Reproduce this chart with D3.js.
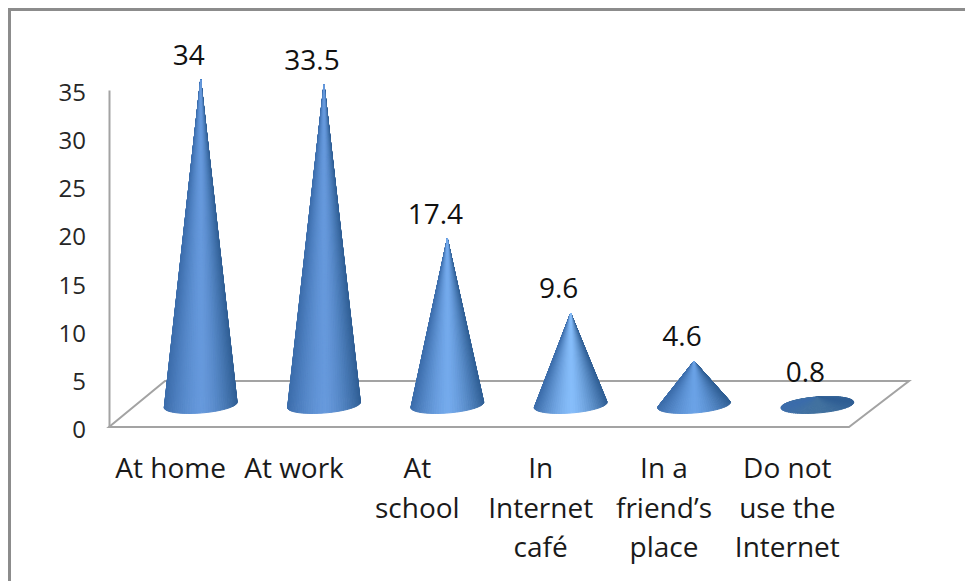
<!DOCTYPE html>
<html>
<head>
<meta charset="utf-8">
<script src="https://cdn.jsdelivr.net/npm/d3@7"></script>
<style>
	html, body { margin: 0; padding: 0; background: #fff; }
	svg { display: block; }
	text { font-family: "Open Sans", sans-serif; fill: #1a1a1a; }
</style>
</head>
<body>
<svg id="chart" width="965" height="581"></svg>
<script>
const categories = ["At home", "At work", "At school", "In Internet café", "In a friend’s place", "Do not use the Internet"];
const values = [34, 33.5, 17.4, 9.6, 4.6, 0.8];
const yTicks = [0, 5, 10, 15, 20, 25, 30, 35];

// wrapped category text, one entry per line
const categoryLines = [
	["At home"],
	["At work"],
	["At", "school"],
	["In", "Internet", "café"],
	["In a", "friend’s", "place"],
	["Do not", "use the", "Internet"]
];

// brightest colour down the middle of each cone
const coneHighlights = ["#6699dc", "#6699dc", "#74aaec", "#86bdfa", "#6aa2e6", "#41719f"];

const svg = d3.select("#chart");
const plotLeft = 109, plotRight = 849, plotTop = 90, plotBottom = 427;
const depthX = 60, depthY = 46;

const x = d3.scaleBand().domain(categories).range([plotLeft, plotRight]);
const y = d3.scaleLinear().domain([0, 35]).range([plotBottom, plotTop]);
// cones stand in the middle of the floor, half way back
const coneY = y.copy().range([405, 70.4]);

// outer frame, runs off the page on the right and bottom
svg.append("path")
	.attr("d", "M9.5,590V9.5H975")
	.attr("fill", "none")
	.attr("stroke", "#8c8c8c")
	.attr("stroke-width", 3);

// floor
svg.append("path")
	.attr("d", d3.line()([
		[plotLeft, plotBottom],
		[plotRight, plotBottom],
		[plotRight + depthX, plotBottom - depthY],
		[plotLeft + depthX - 4, plotBottom - depthY]
	]) + "Z")
	.attr("fill", "none")
	.attr("stroke", "#a3a3a3")
	.attr("stroke-width", 2);

// value axis
const yAxis = svg.append("g")
	.attr("transform", `translate(${plotLeft},0)`)
	.call(d3.axisLeft(y).tickValues(yTicks).tickSize(0).tickPadding(23));
yAxis.select(".domain").attr("stroke", "#a3a3a3").attr("stroke-width", 2);
yAxis.selectAll("text")
	.attr("dy", "0.44em")
	.style("font-family", '"Open Sans", sans-serif')
	.style("font-size", "24px")
	.style("fill", "#262626");

// cone built as a fan of thin triangles so shading follows the surface
const rx = 36.5, ry = 8, tilt = -4.5 * Math.PI / 180;
const segments = 90;

function baseColor(cosT, highlight) {
	const edgeLeft = "#3c6dab", edgeRight = "#2f5e94";
	const u = Math.abs(cosT);
	return d3.interpolateRgb(highlight, cosT < 0 ? edgeLeft : edgeRight)(Math.pow(u, 1.4));
}

function basePoint(cx, cy, t) {
	const ex = rx * Math.cos(t), ey = ry * Math.sin(t);
	return [
		cx + ex * Math.cos(tilt) - ey * Math.sin(tilt),
		cy + ex * Math.sin(tilt) + ey * Math.cos(tilt)
	];
}

categories.forEach((cat, i) => {
	const cx = x(cat) + x.bandwidth() / 2 + depthX / 2;
	const cy = coneY(0);
	const apex = [cx, coneY(values[i])];
	const g = svg.append("g").attr("class", "cone");

	// back half first, front half over it
	const steps = d3.range(segments).sort((a, b) => Math.sin((a + 0.5) / segments * 2 * Math.PI) - Math.sin((b + 0.5) / segments * 2 * Math.PI));

	g.selectAll("path")
		.data(steps)
		.enter()
		.append("path")
		.attr("d", k => {
			const t0 = k / segments * 2 * Math.PI;
			const t1 = (k + 1) / segments * 2 * Math.PI;
			return d3.line()([apex, basePoint(cx, cy, t0), basePoint(cx, cy, t1)]) + "Z";
		})
		.each(function(k) {
			const c = baseColor(Math.cos((k + 0.5) / segments * 2 * Math.PI), coneHighlights[i]);
			d3.select(this)
				.attr("fill", c)
				.attr("stroke", c)
				.attr("stroke-width", 1)
				.attr("stroke-linejoin", "round");
		});

	// value label
	svg.append("text")
		.attr("x", cx - 12)
		.attr("y", apex[1] - 15)
		.attr("text-anchor", "middle")
		.style("font-size", "28px")
		.style("fill", "#111")
		.text(values[i]);

	// category label
	const label = svg.append("text")
		.attr("text-anchor", "middle")
		.style("font-size", "28px");
	categoryLines[i].forEach((line, n) => {
		label.append("tspan")
			.attr("x", x(cat) + x.bandwidth() / 2)
			.attr("y", 478 + n * 39.5)
			.text(line);
	});
});
</script>
</body>
</html>
